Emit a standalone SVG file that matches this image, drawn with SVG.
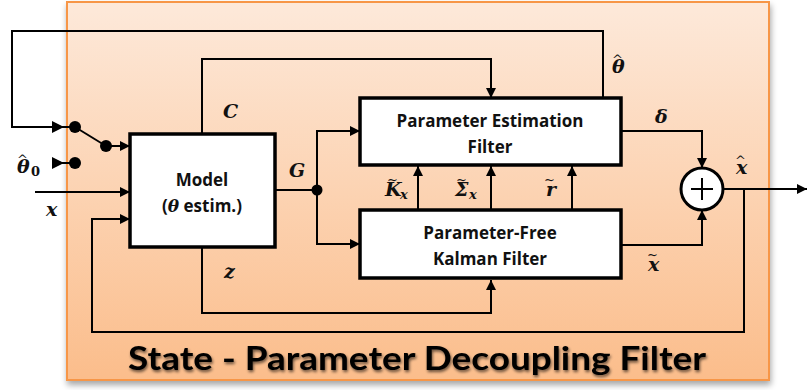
<svg xmlns="http://www.w3.org/2000/svg" width="807" height="390" viewBox="0 0 807 390">
  <defs>
    <linearGradient id="panelFill" x1="0" y1="0" x2="0" y2="1">
      <stop offset="0" stop-color="#fde9da"/>
      <stop offset="1" stop-color="#fbbd8b"/>
    </linearGradient>
    <filter id="panelShadow" x="-5%" y="-5%" width="110%" height="115%">
      <feGaussianBlur in="SourceAlpha" stdDeviation="3"/>
      <feOffset dx="1" dy="4" result="b"/>
      <feComponentTransfer><feFuncA type="linear" slope="0.35"/></feComponentTransfer>
      <feMerge><feMergeNode/><feMergeNode in="SourceGraphic"/></feMerge>
    </filter>
    <filter id="titleShadow" x="-5%" y="-30%" width="110%" height="170%">
      <feGaussianBlur in="SourceAlpha" stdDeviation="1.6"/>
      <feOffset dx="1" dy="2" result="b"/>
      <feComponentTransfer><feFuncA type="linear" slope="0.6"/></feComponentTransfer>
      <feMerge><feMergeNode/><feMergeNode in="SourceGraphic"/></feMerge>
    </filter>
    <marker id="arrow" viewBox="0 0 10 10" refX="10" refY="5" markerWidth="12" markerHeight="10" markerUnits="userSpaceOnUse" orient="auto">
      <path d="M0,0 L10,5 L0,10 Z" fill="#000"/>
    </marker>
  </defs>
  <style>
    .wire { fill: none; stroke: #000; stroke-width: 2; }
    .arr { marker-end: url(#arrow); }
    .box { fill: #fff; stroke: #000; stroke-width: 3.5; }
    .btxt { font-family: "Open Sans", Lato, sans-serif; font-weight: bold; font-size: 17px; fill: #111; text-anchor: middle; }
    .math { font-family: "DejaVu Serif", "Liberation Serif", serif; font-weight: bold; font-style: italic; font-size: 19px; fill: #111; }
    .sub { font-size: 13px; }
    .acc { font-size: 13px; font-style: normal; font-weight: normal; }
    .dot { fill: #000; }
    .title { font-family: Lato, "Open Sans", sans-serif; font-weight: bold; font-size: 32px; fill: #000; }
  </style>

  <!-- background panel -->
  <g id="panel">
    <rect x="67" y="2" width="702" height="378" fill="url(#panelFill)" stroke="#f79646" stroke-width="2" filter="url(#panelShadow)"/>
  </g>

  <!-- connectors -->
  <g id="connectors">
    <!-- theta-hat feedback to switch -->
    <polyline class="wire" points="603,98 603,31 12,31 12,127 75,127"/>
    <path d="M52,121 L64,127 L52,133 Z" fill="#000"/>
    <!-- switch lever -->
    <line class="wire" x1="75" y1="127" x2="106" y2="146"/>
    <line class="wire arr" x1="106" y1="146" x2="130" y2="146"/>
    <!-- theta0 input -->
    <line class="wire" x1="53" y1="163" x2="75" y2="163"/>
    <path d="M52,157 L64,163 L52,169 Z" fill="#000"/>
    <!-- x input -->
    <line class="wire arr" x1="35" y1="192" x2="130" y2="192"/>
    <!-- x-hat feedback into model -->
    <polyline class="wire arr" points="744,189 744,332 92,332 92,219 130,219"/>
    <!-- C -->
    <polyline class="wire arr" points="202,134 202,59 491,59 491,98"/>
    <!-- z -->
    <polyline class="wire arr" points="202,247 202,313 491,313 491,280"/>
    <!-- G -->
    <line class="wire" x1="275" y1="190" x2="317" y2="190"/>
    <polyline class="wire arr" points="317,190 317,131 360,131"/>
    <polyline class="wire arr" points="317,190 317,244 360,244"/>
    <!-- KF to PEF -->
    <line class="wire arr" x1="418" y1="210" x2="418" y2="166"/>
    <line class="wire arr" x1="491" y1="210" x2="491" y2="166"/>
    <line class="wire arr" x1="572" y1="210" x2="572" y2="166"/>
    <!-- delta and x-tilde to sum -->
    <polyline class="wire arr" points="621,131 702,131 702,168"/>
    <polyline class="wire arr" points="621,245 702,245 702,210"/>
    <!-- output -->
    <line class="wire arr" x1="723" y1="189" x2="807" y2="189"/>
    <!-- dots -->
    <circle class="dot" cx="75" cy="127" r="6"/>
    <circle class="dot" cx="106" cy="146" r="6"/>
    <circle class="dot" cx="75" cy="163" r="6"/>
    <circle class="dot" cx="317" cy="190" r="5.5"/>
  </g>

  <!-- model block -->
  <g id="model">
    <rect class="box" x="130" y="134" width="145" height="113"/>
    <text class="btxt" x="202" y="186">Model</text>
    <text class="btxt" x="202" y="212">(<tspan font-family="DejaVu Serif, serif" font-style="italic">θ</tspan> estim.)</text>
  </g>

  <!-- parameter estimation filter -->
  <g id="pef">
    <rect class="box" x="360" y="98" width="261" height="67"/>
    <text class="btxt" x="490" y="127">Parameter Estimation</text>
    <text class="btxt" x="490" y="153">Filter</text>
  </g>

  <!-- parameter-free kalman filter -->
  <g id="kf">
    <rect class="box" x="360" y="210" width="261" height="68"/>
    <text class="btxt" x="490" y="239">Parameter-Free</text>
    <text class="btxt" x="490" y="265">Kalman Filter</text>
  </g>

  <!-- summing junction -->
  <g id="sum">
    <circle cx="702" cy="189" r="21" fill="#fff" stroke="#000" stroke-width="3"/>
    <line x1="691" y1="189" x2="713" y2="189" stroke="#000" stroke-width="2"/>
    <line x1="702" y1="178" x2="702" y2="200" stroke="#000" stroke-width="2"/>
  </g>

  <!-- signal labels; wide hats and tildes are placed with absolute tspan positions -->
  <g id="labels">
    <text class="math" x="17" y="173">θ<tspan class="acc" x="17" y="164">^</tspan><tspan class="sub" font-style="normal" x="31" y="176">0</tspan></text>
    <text class="math" x="46" y="216">x</text>
    <text class="math" x="223" y="118">C</text>
    <text class="math" x="224" y="278">z</text>
    <text class="math" x="289" y="177">G</text>
    <text class="math" x="385" y="196">K<tspan class="acc" x="387" y="184">~</tspan><tspan class="sub" x="400" y="199">x</tspan></text>
    <text class="math" x="455" y="196">Σ<tspan class="acc" x="456" y="184">~</tspan><tspan class="sub" x="469" y="199">x</tspan></text>
    <text class="math" x="546" y="196">r<tspan class="acc" x="544" y="184">~</tspan></text>
    <text class="math" x="612" y="73">θ<tspan class="acc" x="612" y="64">^</tspan></text>
    <text class="math" x="655" y="123">δ</text>
    <text class="math" x="736" y="174">x<tspan class="acc" x="735" y="165">^</tspan></text>
    <text class="math" x="648" y="271">x<tspan class="acc" x="647" y="259">~</tspan></text>
  </g>

  <!-- caption -->
  <g id="caption">
    <text class="title" x="128" y="370" textLength="578" lengthAdjust="spacingAndGlyphs" filter="url(#titleShadow)">State - Parameter Decoupling Filter</text>
  </g>
</svg>
